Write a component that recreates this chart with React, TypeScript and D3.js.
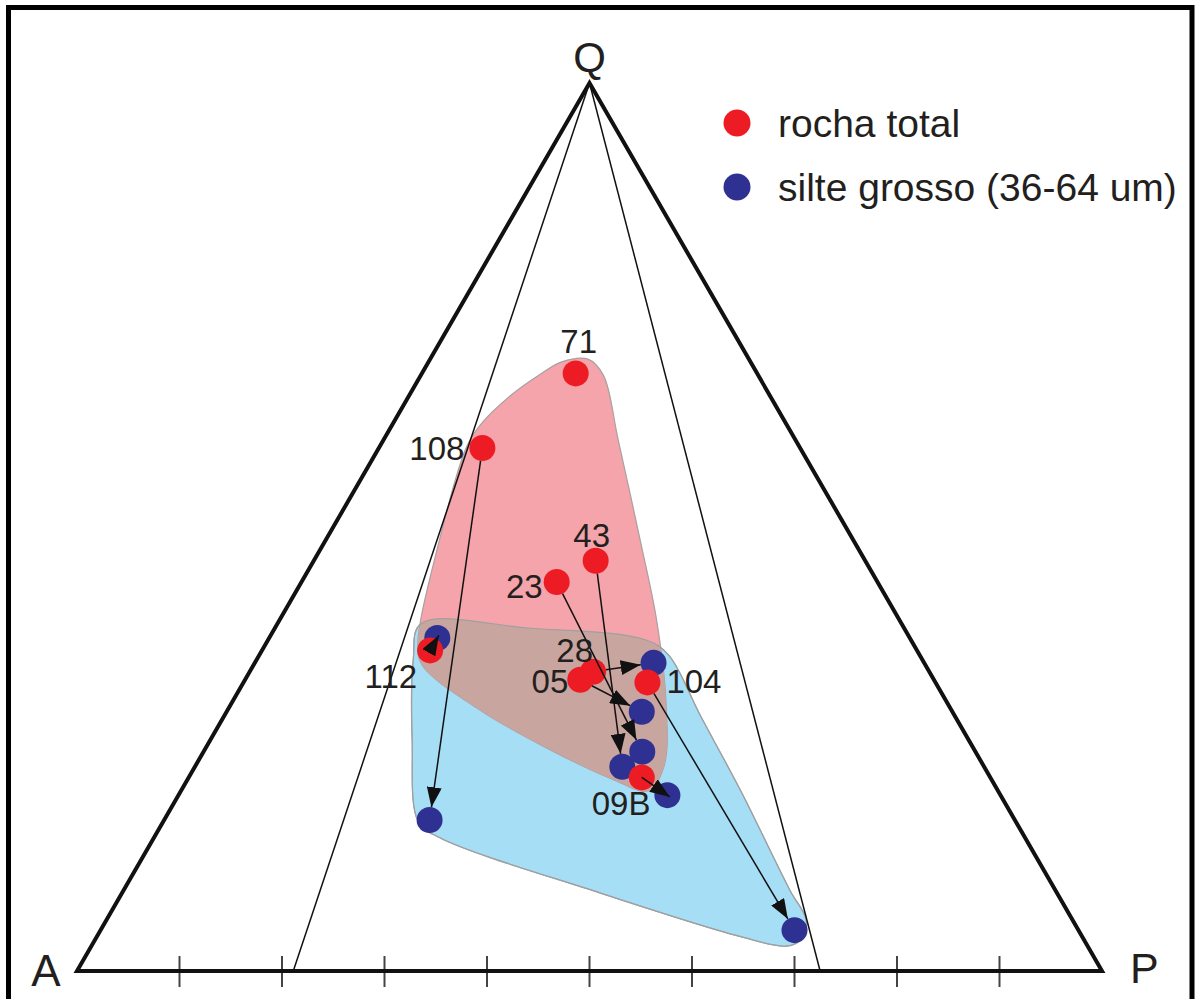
import React from 'react';
import * as d3 from 'd3';

// sample ids
const samples = ['71', '108', '43', '23', '28', '05', '104', '112', '09B'];

// rocha total, Q% and P% (A% = 100 - Q - P)
const rochaQ = [67.3, 58.9, 46.2, 43.8, 33.7, 32.8, 32.5, 36.1, 21.8];
const rochaP = [15.0, 10.1, 27.5, 24.9, 33.5, 32.7, 39.4, 16.4, 44.2];

// silte grosso (36-64 um), same order, null = no measurement
const silteQ = [null, 17.0, 23.0, 24.7, 34.7, 29.2, 4.6, 37.5, 19.8];
const silteP = [null, 25.9, 41.7, 42.8, 38.9, 40.5, 67.7, 16.4, 47.7];

// envelopes drawn around each group (Q%, P%)
const rochaEnvQ = [68.6, 68.9, 67.1, 59.8, 48.5, 39.5, 30.5, 23.2, 20.3, 21.5, 25.1, 29.4, 34.4, 36.7, 48.5, 59.0, 61.5, 64.8, 67.2];
const rochaEnvP = [13.0, 15.4, 17.8, 22.9, 30.7, 36.8, 42.2, 45.7, 45.6, 41.7, 33.3, 24.6, 16.5, 14.9, 11.1, 8.5, 8.6, 9.9, 11.6];
const silteEnvQ = [39.1, 38.6, 37.3, 35.6, 28.8, 20.4, 9.1, 5.7, 3.6, 2.8, 3.9, 8.8, 15.0, 16.8, 26.0, 35.0];
const silteEnvP = [14.0, 24.9, 36.8, 39.9, 46.4, 54.5, 65.0, 68.3, 68.9, 67.8, 62.7, 46.6, 27.9, 24.9, 19.7, 15.3];

// field boundaries from Q, as P/(A+P) %
const fieldBounds = [21.1, 72.5];
const baseTicks = [10, 20, 30, 40, 50, 60, 70, 80, 90];

const legendItems = ['rocha total', 'silte grosso (36-64 um)'];

const RED = '#ed1c24';
const BLUE = '#2e3192';
const INK = '#231f20';
const FONT = '"Liberation Sans", Arial, Helvetica, sans-serif';

const labelPlace: Record<string, { anchor: string; dx: number; dy: number }> = {
  '71': { anchor: 'middle', dx: 3, dy: -20 },
  '108': { anchor: 'end', dx: -18, dy: 12 },
  '43': { anchor: 'middle', dx: -4, dy: -14 },
  '23': { anchor: 'end', dx: -14, dy: 16 },
  '28': { anchor: 'end', dx: 0, dy: -10 },
  '05': { anchor: 'end', dx: -12, dy: 13 },
  '104': { anchor: 'start', dx: 19, dy: 11 },
  '112': { anchor: 'end', dx: -13, dy: 38 },
  '09B': { anchor: 'start', dx: -50, dy: 38 },
};

const App = () => {
  const width = 1195;
  const height = 999;
  const r = 13;

  const xScale = d3.scaleLinear().domain([0, 100]).range([77, 1102]);
  const yScale = d3.scaleLinear().domain([0, 100]).range([971, 83]);
  const proj = (q: number, p: number): [number, number] => [xScale(p + q / 2), yScale(q)];

  const A = proj(0, 0);
  const P = proj(0, 100);
  const Q = proj(100, 0);

  const envLine = d3.line().curve(d3.curveCatmullRomClosed.alpha(0.5));
  const rochaEnv = envLine(rochaEnvQ.map((q, i) => proj(q, rochaEnvP[i]))) || '';
  const silteEnv = envLine(silteEnvQ.map((q, i) => proj(q, silteEnvP[i]))) || '';

  const rochaPts = samples.map((s, i) => proj(rochaQ[i], rochaP[i]));
  const siltePts = samples.map((s, i) =>
    silteQ[i] == null ? null : proj(silteQ[i] as number, silteP[i] as number)
  );

  const arrows = samples
    .map((s, i) => {
      const a = rochaPts[i];
      const b = siltePts[i];
      if (!b) return null;
      const dx = b[0] - a[0];
      const dy = b[1] - a[1];
      const len = Math.hypot(dx, dy);
      const ux = dx / len;
      const uy = dy / len;
      if (len < 3 * r) {
        return { id: s, x1: a[0], y1: a[1], x2: b[0] + ux * 3, y2: b[1] + uy * 3 };
      }
      return { id: s, x1: a[0] + ux * r, y1: a[1] + uy * r, x2: b[0] - ux * r, y2: b[1] - uy * r };
    })
    .filter(Boolean) as { id: string; x1: number; y1: number; x2: number; y2: number }[];

  return (
    <svg
      width={width}
      height={height}
      style={{ position: 'absolute', left: 0, top: 0, display: 'block', background: '#fff' }}
    >
      <defs>
        <marker id="arrowHead" markerWidth={20} markerHeight={15} refX={20} refY={7.5}
          orient="auto" markerUnits="userSpaceOnUse">
          <path d="M0,0 L20,7.5 L0,15 Z" fill="#111" />
        </marker>
        <clipPath id="silteClip">
          <path d={silteEnv} />
        </clipPath>
      </defs>

      <rect x={8.5} y={7.5} width={1183.5} height={1010} fill="none" stroke="#000" strokeWidth={5} />

      {/* envelopes */}
      <path d={silteEnv} fill="#a6def6" stroke="#9aa9b0" strokeWidth={1.2} />
      <path d={rochaEnv} fill="#f4a4aa" stroke="#a9a0a0" strokeWidth={1.2} />
      <path d={rochaEnv} fill="#c9a59f" stroke="none" clipPath="url(#silteClip)" />
      <path d={silteEnv} fill="none" stroke="#a0a0a0" strokeWidth={1.2} />

      {/* QAP triangle */}
      {fieldBounds.map((b) => {
        const base = proj(0, b);
        return <line key={b} x1={Q[0]} y1={Q[1]} x2={base[0]} y2={base[1]} stroke="#111" strokeWidth={1.5} />;
      })}
      {baseTicks.map((t) => {
        const pt = proj(0, t);
        return <line key={t} x1={pt[0]} y1={pt[1] - 15} x2={pt[0]} y2={pt[1] + 16} stroke="#444" strokeWidth={2} />;
      })}
      <path
        d={`M${A[0]},${A[1]}L${P[0]},${P[1]}L${Q[0]},${Q[1]}Z`}
        fill="none"
        stroke="#111"
        strokeWidth={4}
        strokeLinejoin="miter"
      />
      <text x={Q[0]} y={72} textAnchor="middle" fontFamily={FONT} fontSize={42} fill={INK}>Q</text>
      <text x={46} y={986} textAnchor="middle" fontFamily={FONT} fontSize={44} fill={INK}>A</text>
      <text x={1130} y={983} textAnchor="start" fontFamily={FONT} fontSize={43} fill={INK}>P</text>

      {/* points */}
      {siltePts.map((pt, i) =>
        pt ? <circle key={'b' + samples[i]} cx={pt[0]} cy={pt[1]} r={r} fill={BLUE} /> : null
      )}
      {rochaPts.map((pt, i) => (
        <circle key={'r' + samples[i]} cx={pt[0]} cy={pt[1]} r={r} fill={RED} />
      ))}

      {/* arrows rocha total -> silte grosso */}
      {arrows.map((a) => (
        <line key={'a' + a.id} x1={a.x1} y1={a.y1} x2={a.x2} y2={a.y2}
          stroke="#111" strokeWidth={1.5} markerEnd="url(#arrowHead)" />
      ))}

      {/* sample labels */}
      {samples.map((s, i) => {
        const pl = labelPlace[s];
        const pt = rochaPts[i];
        return (
          <text key={'l' + s} x={pt[0] + pl.dx} y={pt[1] + pl.dy} textAnchor={pl.anchor}
            fontFamily={FONT} fontSize={33} fill={INK}>{s}</text>
        );
      })}

      {/* legend */}
      {legendItems.map((label, i) => (
        <g key={label} transform={`translate(737, ${123 + i * 64})`}>
          <circle r={13.5} fill={i === 0 ? RED : BLUE} />
          <text x={41} y={14} fontFamily={FONT} fontSize={39} fill={INK}>{label}</text>
        </g>
      ))}
    </svg>
  );
};

export default App;
